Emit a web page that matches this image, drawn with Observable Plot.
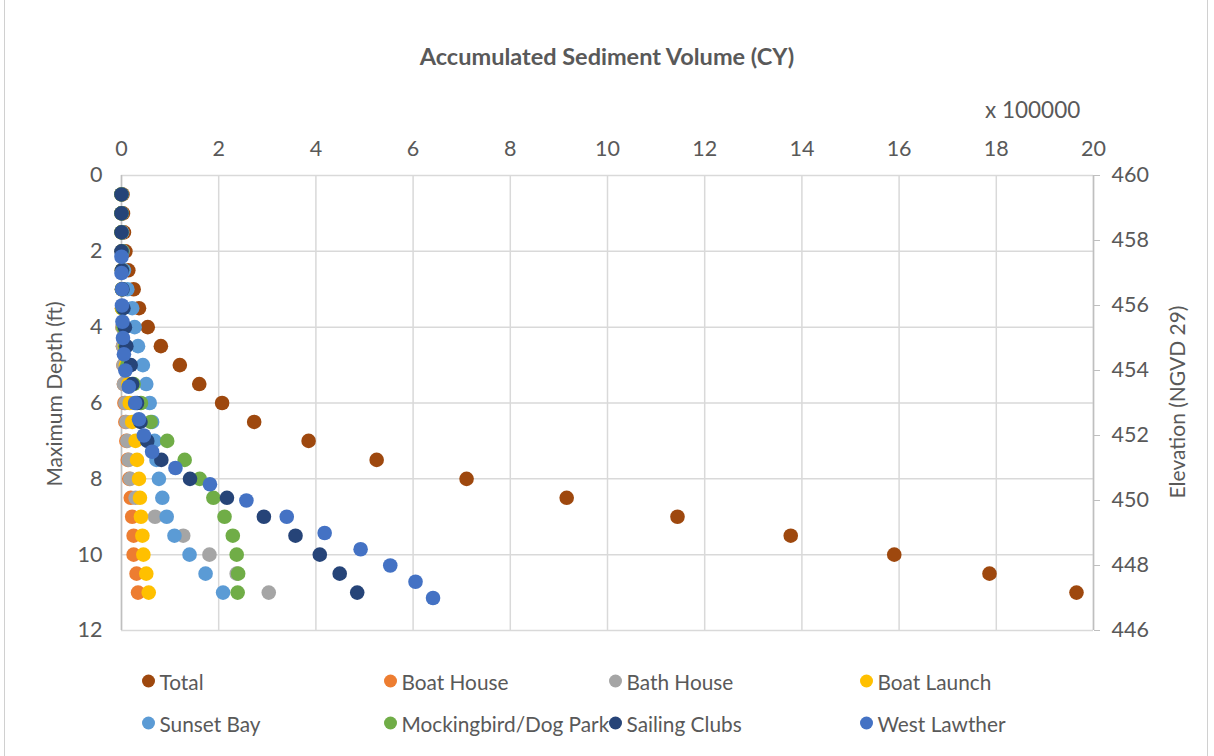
<!DOCTYPE html>
<html><head><meta charset="utf-8">
<script src="https://cdn.jsdelivr.net/npm/d3@7"></script>
<script src="https://cdn.jsdelivr.net/npm/@observablehq/plot@0.6"></script>
<style>
body{margin:0;background:#fff;font-family:Lato,"Open Sans",sans-serif;color:#595959;}
#wrap{position:relative;width:1214px;height:756px;overflow:hidden;background:#fff;}
#frame{position:absolute;left:4px;top:-2px;width:1204px;height:758px;border-left:1.5px solid #d0d0d0;border-right:1.5px solid #d0d0d0;box-sizing:border-box;}
#chart{position:absolute;left:0;top:0;}
#title{position:absolute;left:0;width:1214px;top:42px;text-align:center;font-weight:bold;font-size:23.5px;color:#595959;}
#units{position:absolute;left:985px;top:96px;font-size:22.5px;color:#595959;}
.ylab{position:absolute;font-size:21px;color:#595959;white-space:nowrap;transform:translate(-50%,-50%) rotate(-90deg);}
.leg{position:absolute;font-size:20.8px;color:#595959;white-space:nowrap;display:flex;align-items:center;transform:translateY(-50%);}
.leg span.m{display:inline-block;width:13px;height:13px;border-radius:50%;margin-right:5px;}
</style></head><body>
<div id="wrap">
  <div id="frame"></div>
  <div id="chart"></div>
  <div id="title">Accumulated Sediment Volume (CY)</div>
  <div id="units">x 100000</div>
  <div class="ylab" style="left:53px;top:394px;">Maximum Depth (ft)</div>
  <div class="ylab" style="left:1176px;top:402px;">Elevation (NGVD 29)</div>
  <div id="legend"></div>
</div>
<script>
// Depth (ft) for primary-axis series; elevation (NGVD 29) for West Lawther (secondary axis)
const depths = [0.5,1,1.5,2,2.5,3,3.5,4,4.5,5,5.5,6,6.5,7,7.5,8,8.5,9,9.5,10,10.5,11];
const elevations = [457.5,457,456.5,456,455.5,455,454.5,454,453.5,453,452.5,452,451.5,451,450.5,450,449.5,449,448.5,448,447.5,447];

// Accumulated sediment volume, in units of 100,000 CY
const total        = [0.02,0.03,0.05,0.08,0.14,0.25,0.36,0.54,0.81,1.2,1.6,2.07,2.73,3.85,5.25,7.1,9.16,11.44,13.77,15.9,17.86,19.65];
const boatHouse    = [0,0,0.01,0.01,0.01,0.01,0.01,0.02,0.03,0.04,0.05,0.06,0.08,0.1,0.13,0.16,0.19,0.22,0.25,0.25,0.31,0.34];
const bathHouse    = [0,0,0.01,0.01,0.02,0.02,0.02,0.02,0.03,0.04,0.05,0.08,0.1,0.12,0.15,0.18,0.29,0.69,1.27,1.81,2.37,3.03];
const boatLaunch   = [0,0,0,0.01,0.01,0.01,0.01,0.04,0.07,0.09,0.14,0.17,0.22,0.29,0.32,0.36,0.38,0.4,0.43,0.45,0.51,0.56];
const sunsetBay    = [0,0,0.01,0.02,0.05,0.12,0.22,0.27,0.34,0.44,0.51,0.58,0.63,0.68,0.72,0.77,0.84,0.93,1.09,1.4,1.73,2.09];
const mockingbird  = [0,0,0,0.01,0.01,0.01,0.02,0.04,0.08,0.12,0.25,0.4,0.6,0.94,1.3,1.61,1.89,2.12,2.29,2.37,2.4,2.39];
const sailingClubs = [0,0,0,0,0.01,0.02,0.04,0.07,0.1,0.19,0.22,0.32,0.39,0.53,0.82,1.41,2.17,2.93,3.58,4.08,4.49,4.85];
const westLawther  = [0,0,0.01,0.01,0.02,0.03,0.05,0.08,0.15,0.28,0.36,0.46,0.63,1.11,1.82,2.57,3.4,4.18,4.92,5.53,6.05,6.41];

const seriesNames = ["Total","Boat House","Bath House","Boat Launch","Sunset Bay","Mockingbird/Dog Park","Sailing Clubs","West Lawther"];
const seriesColors = ["#9E480E","#ED7D31","#A5A5A5","#FFC000","#5B9BD5","#70AD47","#264478","#4472C4"];

const xTicks = [0,2,4,6,8,10,12,14,16,18,20];
const depthTicks = [0,2,4,6,8,10,12];
const elevTicks = [460,458,456,454,452,450,448,446];

// secondary axis: elevation 460..446 spans the same height as depth 0..12
const elevTop = 460, elevBottom = 446, depthMax = 12;
const elevToPos = e => (elevTop - e) * depthMax / (elevTop - elevBottom);
const posToElev = p => Math.round(elevTop - p * (elevTop - elevBottom) / depthMax);

const primary = [total, boatHouse, bathHouse, boatLaunch, sunsetBay, mockingbird, sailingClubs];
const rows = [];
primary.forEach((vals, i) => vals.forEach((v, j) => rows.push({series: seriesNames[i], x: v, y: depths[j]})));
westLawther.forEach((v, j) => rows.push({series: seriesNames[7], x: v, y: elevToPos(elevations[j])}));

const chart = Plot.plot({
  width: 1214,
  height: 660,
  marginTop: 175,
  marginLeft: 121,
  marginRight: 121,
  marginBottom: 30,
  style: {fontFamily: "Lato, 'Open Sans', sans-serif", color: "#595959", background: "transparent"},
  x: {domain: [0, 20]},
  y: {domain: [0, 12], reverse: true},
  color: {domain: seriesNames, range: seriesColors},
  marks: [
    Plot.gridX(xTicks, {stroke: "#d9d9d9", strokeOpacity: 1, strokeWidth: 1.5}),
    Plot.gridY(depthTicks, {stroke: "#d9d9d9", strokeOpacity: 1, strokeWidth: 1.5}),
    Plot.ruleX([0], {stroke: "#bfbfbf", strokeWidth: 1.5}),
    Plot.ruleX([20], {stroke: "#bfbfbf", strokeWidth: 1.5}),
    Plot.axisX(xTicks, {anchor: "top", tickSize: 0, tickPadding: 20, fontSize: 21.5, label: null, fill: "#595959"}),
    Plot.axisY(depthTicks, {anchor: "left", tickSize: 0, tickPadding: 19, fontSize: 21.5, label: null, fill: "#595959"}),
    Plot.axisY(elevTicks.map(elevToPos), {anchor: "right", tickSize: 6, tickPadding: 12, fontSize: 21.5, label: null,
      stroke: "#bfbfbf", fill: "#595959", tickFormat: posToElev}),
    Plot.dot(rows, {x: "x", y: "y", fill: "series", r: 7.3, stroke: null})
  ]
});
document.getElementById("chart").appendChild(chart);

// legend
const legCols = [148, 390, 615, 866];
const legRows = [681, 723];
const legend = document.getElementById("legend");
seriesNames.forEach((name, i) => {
  const d = document.createElement("div");
  d.className = "leg";
  d.style.left = (legCols[i % 4] - 6.5) + "px";
  d.style.top = legRows[Math.floor(i / 4)] + "px";
  d.innerHTML = `<span class="m" style="background:${seriesColors[i]}"></span>${name}`;
  legend.appendChild(d);
});
</script>
</body></html>
